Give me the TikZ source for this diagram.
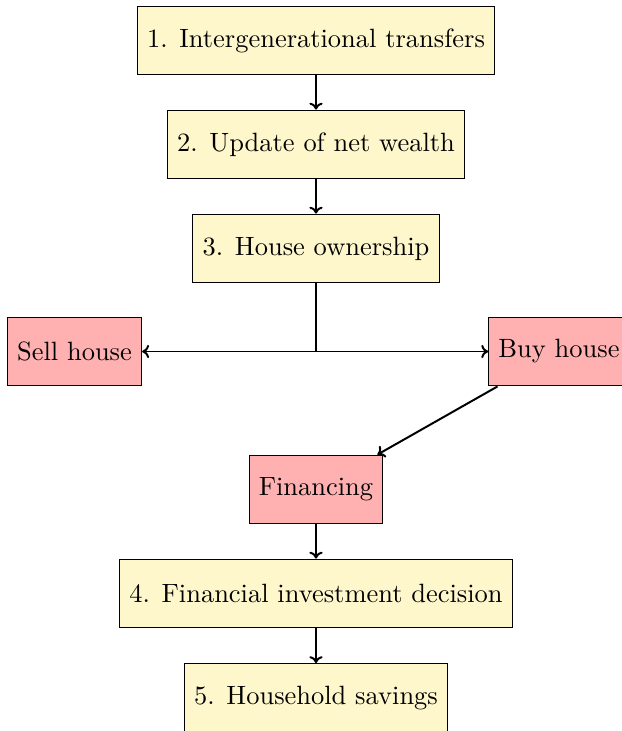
\documentclass[tikz,border=0pt]{standalone}
\usetikzlibrary{arrows.meta}
\definecolor{boxyellow}{HTML}{FFF7CC}
\definecolor{boxred}{HTML}{FFB1B1}
\tikzset{
  stepbox/.style={draw, fill=boxyellow, rectangle, minimum height=26pt, inner xsep=3.7pt, font=\fontsize{10}{12}\selectfont},
  actbox/.style={draw, fill=boxred, rectangle, minimum height=26pt, inner xsep=3.7pt, font=\fontsize{10}{12}\selectfont},
  conn/.style={line width=0.75pt, -{To[length=2.6pt,width=5pt]}},
}
\begin{document}
\begin{tikzpicture}[x=0.378pt, y=-0.378pt]
\useasboundingbox (0,0) rectangle (622,731);
\begin{scope}
\clip (0,0) rectangle (622,731);
\node[stepbox] (s1) at (316,40.5) {1. Intergenerational transfers};
\node[stepbox] (s2) at (316,144.5) {2. Update of net wealth};
\node[stepbox] (s3) at (316,248.5) {3. House ownership};
\node[actbox] (sell) at (74.5,351.5) {Sell house};
\node[actbox] (buy) at (559,351.5) {Buy house};
\node[actbox] (fin) at (316,489.5) {Financing};
\node[stepbox] (s4) at (316,593.5) {4. Financial investment decision};
\node[stepbox] (s5) at (316,698) {5. Household savings};
\coordinate (j) at (316,351.5);
\draw[conn] (s1) -- (s2);
\draw[conn] (s2) -- (s3);
\draw[line width=0.75pt] (s3) -- (j);
\draw[conn] (j) -- (sell);
\draw[conn] (j) -- (buy);
\draw[conn] (buy) -- (fin);
\draw[conn] (fin) -- (s4);
\draw[conn] (s4) -- (s5);
\end{scope}
\end{tikzpicture}
\end{document}
